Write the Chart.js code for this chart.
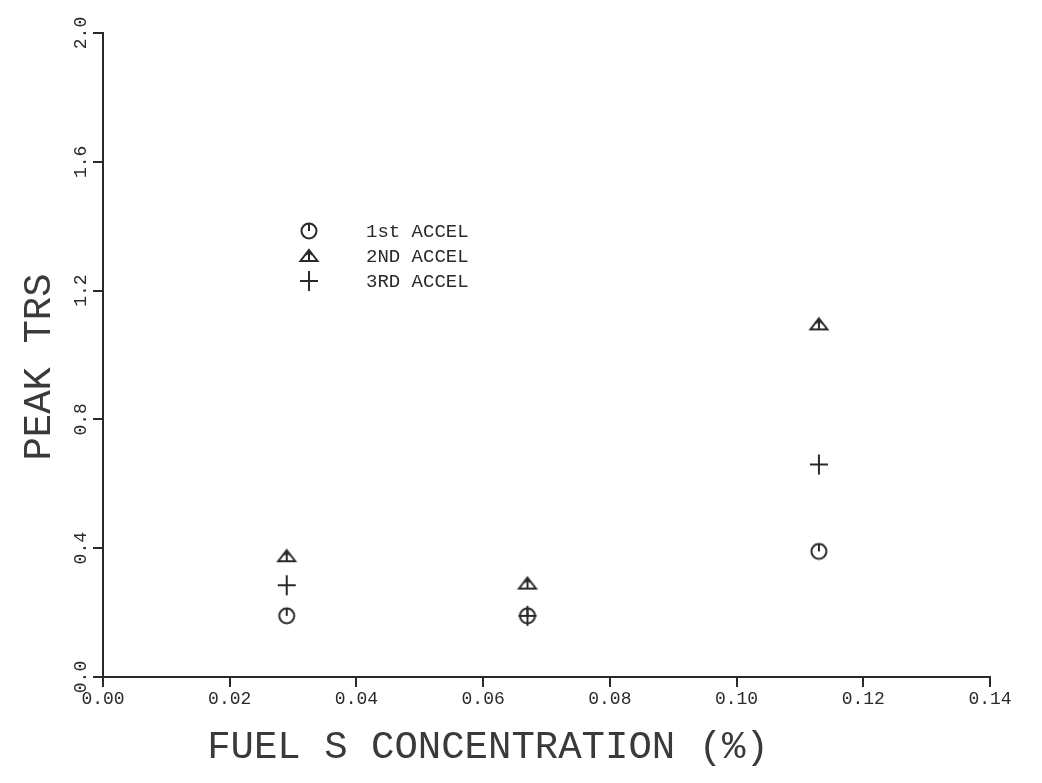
<!DOCTYPE html>
<html>
<head>
<meta charset="utf-8">
<title>Peak TRS vs Fuel S Concentration</title>
<script src="https://cdn.jsdelivr.net/npm/chart.js@4/dist/chart.umd.min.js"></script>
<style>
  html, body { margin: 0; padding: 0; background: #fff; }
  #wrap { width: 1042px; height: 783px; position: relative; }
</style>
</head>
<body>
<div id="wrap"><canvas id="myChart" width="1042" height="783"></canvas></div>
<script>
// data
const fuelS = [0.029, 0.067, 0.113];          // fuel S concentration (%)
const accel1 = [0.19, 0.19, 0.39];            // 1st ACCEL
const accel2 = [0.375, 0.29, 1.095];          // 2ND ACCEL
const accel3 = [0.285, 0.19, 0.66];           // 3RD ACCEL
const seriesNames = ['1st ACCEL', '2ND ACCEL', '3RD ACCEL'];
const xTicks = [0.00, 0.02, 0.04, 0.06, 0.08, 0.10, 0.12, 0.14];
const yTicks = [0.0, 0.4, 0.8, 1.2, 1.6, 2.0];
const xTitle = 'FUEL S CONCENTRATION (%)';
const yTitle = 'PEAK TRS';

const ink = '#2a2a2a';
const monoFont = '"Liberation Mono", "DejaVu Sans Mono", monospace';

// plotter style markers
function makeMarker(kind) {
    const c = document.createElement('canvas');
    c.width = 24; c.height = 24;
    const g = c.getContext('2d');
    g.strokeStyle = ink;
    g.lineWidth = 2;
    if (kind === 'clock') {
        g.beginPath();
        g.arc(12, 12, 7.5, 0, Math.PI * 2);
        g.stroke();
        g.beginPath();
        g.moveTo(12, 4.5); g.lineTo(12, 12);
        g.stroke();
    } else if (kind === 'tri') {
        g.beginPath();
        g.moveTo(12, 6); g.lineTo(20.5, 17); g.lineTo(3.5, 17); g.closePath();
        g.stroke();
        g.beginPath();
        g.moveTo(12, 7); g.lineTo(12, 16);
        g.moveTo(9, 11); g.lineTo(12, 7); g.lineTo(15, 11);
        g.stroke();
    } else {
        g.beginPath();
        g.moveTo(3, 12); g.lineTo(21, 12);
        g.moveTo(12, 2); g.lineTo(12, 22);
        g.stroke();
    }
    return c;
}
const markers = [makeMarker('clock'), makeMarker('tri'), makeMarker('plus')];

function toPoints(ys) {
    return fuelS.map((x, i) => ({ x: x, y: ys[i] }));
}

// legend and axis titles placed like the original plotter output
const plotterText = {
    id: 'plotterText',
    afterDraw(chart) {
        const ctx = chart.ctx;
        ctx.save();
        ctx.fillStyle = ink;
        ctx.font = '19px ' + monoFont;
        ctx.textBaseline = 'middle';
        seriesNames.forEach((name, i) => {
            const y = 231 + i * 25;
            ctx.drawImage(markers[i], 309 - 12, y - 12);
            ctx.fillText(name, 366, y + 1);
        });

        ctx.fillStyle = '#3a3a3a';
        ctx.font = '39px ' + monoFont;
        ctx.textAlign = 'center';
        ctx.textBaseline = 'alphabetic';
        ctx.fillText(xTitle, 488, 758);

        ctx.translate(50, 367);
        ctx.rotate(-Math.PI / 2);
        ctx.fillText(yTitle, 0, 0);
        ctx.restore();
    }
};

const ctx = document.getElementById('myChart').getContext('2d');
const myChart = new Chart(ctx, {
    type: 'scatter',
    data: {
        datasets: [
            { label: seriesNames[0], data: toPoints(accel1), pointStyle: markers[0] },
            { label: seriesNames[1], data: toPoints(accel2), pointStyle: markers[1] },
            { label: seriesNames[2], data: toPoints(accel3), pointStyle: markers[2] }
        ]
    },
    options: {
        responsive: false,
        animation: false,
        layout: { padding: { top: 33, right: 52, left: 0, bottom: 0 } },
        plugins: {
            legend: { display: false },
            tooltip: { enabled: false }
        },
        scales: {
            x: {
                type: 'linear',
                min: 0, max: 0.14,
                afterBuildTicks: axis => { axis.ticks = xTicks.map(v => ({ value: v })); },
                afterFit: axis => { axis.height = 106; },
                border: { color: ink, width: 2 },
                grid: { drawOnChartArea: false, color: ink, lineWidth: 2, tickLength: 10 },
                ticks: {
                    color: ink,
                    font: { family: monoFont, size: 18 },
                    padding: 1,
                    maxRotation: 0,
                    callback: v => v.toFixed(2)
                }
            },
            y: {
                type: 'linear',
                min: 0, max: 2.0,
                afterBuildTicks: axis => { axis.ticks = yTicks.map(v => ({ value: v })); },
                afterFit: axis => { axis.width = 103; },
                border: { color: ink, width: 2 },
                grid: { drawOnChartArea: false, color: ink, lineWidth: 2, tickLength: 10 },
                ticks: {
                    color: ink,
                    font: { family: monoFont, size: 18 },
                    padding: -4,
                    crossAlign: 'center',
                    minRotation: 90,
                    maxRotation: 90,
                    callback: v => v.toFixed(1)
                }
            }
        }
    },
    plugins: [plotterText]
});
</script>
</body>
</html>
